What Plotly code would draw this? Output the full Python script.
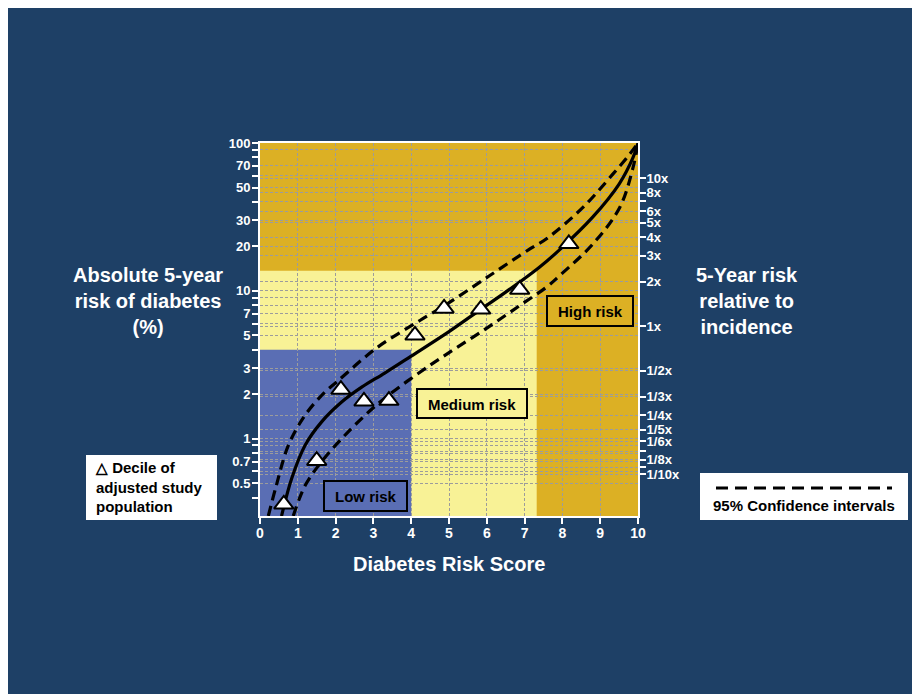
import math
import plotly.graph_objects as go

# ---------------- data ----------------
decile_score = [0.63, 1.50, 2.14, 2.75, 3.41, 4.10, 4.87, 5.84, 6.87, 8.17]
decile_risk = [0.36, 0.71, 2.15, 1.79, 1.81, 5.0, 7.6, 7.5, 10.2, 20.8]

fit_score = [0.57, 0.84, 1.19, 1.63, 2.16, 2.69, 3.30, 4.00, 5.00, 5.84, 6.50, 7.40, 7.93, 8.80, 9.50, 9.87, 10.0]
fit_risk = [0.30, 0.54, 0.90, 1.30, 1.77, 2.23, 2.78, 3.62, 5.30, 7.50, 9.80, 14.5, 19.0, 31.5, 52.8, 80.0, 100.0]

upper_score = [0.22, 0.42, 0.75, 1.19, 1.72, 2.03, 3.08, 4.23, 4.90, 6.08, 7.14, 7.58, 8.55, 9.34, 9.78, 10.0]
upper_risk = [0.30, 0.47, 0.90, 1.44, 2.07, 2.42, 4.10, 6.30, 8.0, 12.7, 19.2, 22.5, 36.8, 61.8, 84.0, 100.0]

lower_score = [0.88, 1.19, 1.63, 2.16, 2.78, 3.39, 4.49, 5.02, 6.00, 6.87, 7.58, 7.93, 8.81, 9.52, 9.87, 10.0]
lower_risk = [0.30, 0.48, 0.70, 1.00, 1.44, 1.96, 3.13, 3.85, 5.6, 7.95, 10.6, 12.7, 20.8, 36.8, 68.5, 100.0]

# risk zones
low_score_max, low_risk_max = 4.0, 4.0
med_score_max, med_risk_max = 7.32, 13.7
risk_min, risk_max = 0.3, 100.0
score_ticks = list(range(0, 11))

# left axis ticks
left_tickvals = [0.4, 0.5, 0.6, 0.7, 0.8, 0.9, 1, 2, 3, 4, 5, 6, 7, 8, 9,
                 10, 20, 30, 40, 50, 60, 70, 80, 90, 100]
left_labeled = [0.5, 0.7, 1, 2, 3, 5, 7, 10, 20, 30, 50, 70, 100]
left_ticktext = [("%g" % v) if v in left_labeled else "" for v in left_tickvals]
left_gridvals = [0.5, 0.6, 0.7, 0.8, 0.9, 1, 2, 3, 5, 6, 7, 8, 9, 10, 20, 30, 50, 60, 70, 90]

# right axis (relative to incidence)
incidence = 5.77  # % corresponding to 1x
right_tickvals = [10, 8, 7, 6, 5, 4, 3, 2, 1, 1/2, 1/3, 1/4, 1/5, 1/6, 1/7, 1/8, 1/9, 1/10]
right_ticktext = ["10x", "8x", "", "6x", "5x", "4x", "3x", "2x", "1x", "1/2x", "1/3x",
                  "1/4x", "1/5x", "1/6x", "", "1/8x", "", "1/10x"]

# ---------------- styling ----------------
NAVY = "#1E4066"
GOLD = "#DCB024"
LIGHT = "#F8F296"
BLUE = "#5A6EB4"
GRID = "#9C9C9C"
FONT = "Liberation Sans, Arial, sans-serif"

W, H = 920, 694
OX, OY = 8, 8          # page margin of the html body
L, T = 252, 135        # plot area left / top inside the figure
R, B = 290, 186
PW, PH = W - L - R, H - T - B


def px(x):  # screenshot pixel -> paper
    return (x - OX - L) / PW


def py(y):
    return (H - B - (y - OY)) / PH


fig = go.Figure()

fig.add_trace(go.Scatter(x=upper_score, y=upper_risk, mode="lines", line_shape="spline",
                         line=dict(color="black", width=3.2, dash="10px,6px"),
                         hoverinfo="skip", showlegend=False))
fig.add_trace(go.Scatter(x=lower_score, y=lower_risk, mode="lines", line_shape="spline",
                         line=dict(color="black", width=3.2, dash="10px,6px"),
                         hoverinfo="skip", showlegend=False))
fig.add_trace(go.Scatter(x=fit_score, y=fit_risk, mode="lines", line_shape="spline",
                         line=dict(color="black", width=3.2),
                         hoverinfo="skip", showlegend=False))
fig.add_trace(go.Scatter(x=decile_score, y=decile_risk, mode="markers",
                         marker=dict(symbol="triangle-up", size=17, color="white",
                                     line=dict(color="black", width=2)),
                         hoverinfo="skip", showlegend=False))
# carrier traces for the overlay axes
fig.add_trace(go.Scatter(x=[5], y=[1], yaxis="y2", mode="markers", marker=dict(opacity=0),
                         hoverinfo="skip", showlegend=False))
fig.add_trace(go.Scatter(x=[5], y=[1], yaxis="y3", mode="markers", marker=dict(opacity=0),
                         hoverinfo="skip", showlegend=False))

shapes = []
# zone rectangles
shapes.append(dict(type="rect", xref="x", yref="y", x0=0, x1=med_score_max, y0=risk_min, y1=med_risk_max,
                   fillcolor=LIGHT, line=dict(width=0), layer="below"))
shapes.append(dict(type="rect", xref="x", yref="y", x0=0, x1=low_score_max, y0=risk_min, y1=low_risk_max,
                   fillcolor=BLUE, line=dict(width=0), layer="below"))


def box(x0, y0, x1, y1, fill, lw=2, lc="black"):
    return dict(type="rect", xref="paper", yref="paper", x0=px(x0), x1=px(x1), y0=py(y1), y1=py(y0),
                fillcolor=fill, line=dict(color=lc, width=lw), layer="above")


shapes.append(box(324, 481, 407, 511, BLUE))
shapes.append(box(417, 389, 527, 418, LIGHT))
shapes.append(box(547, 296, 633, 326, GOLD))
# legend boxes
shapes.append(box(86, 455, 217, 520, "white", lw=0, lc="white"))
shapes.append(box(700, 473, 908, 520, "white", lw=0, lc="white"))
shapes.append(dict(type="line", xref="paper", yref="paper", x0=px(716), x1=px(892), y0=py(488), y1=py(488),
                   line=dict(color="black", width=3, dash="12px,7px")))

annotations = []


def text(x, y, s, size, color="black", anchor="center", align="center"):
    annotations.append(dict(xref="paper", yref="paper", x=px(x), y=py(y), text=s, showarrow=False,
                            xanchor=anchor, yanchor="middle", align=align,
                            font=dict(family=FONT, size=size, color=color, weight="bold")))


text(366, 496, "Low risk", 15)
text(472, 404, "Medium risk", 15)
text(590, 311, "High risk", 15)
text(93, 487, "△ Decile of<br>adjusted study<br>population", 15, anchor="left", align="left")
text(804, 505, "95% Confidence intervals", 15)
text(148, 301, "Absolute 5-year<br>risk of diabetes<br>(%)", 20, color="white")
text(747, 301, "5-Year risk<br>relative to<br>incidence", 20, color="white")
text(449, 564, "Diabetes Risk Score", 20, color="white")

tickfont = dict(family=FONT, size=13, color="white", weight="bold")
xtickfont = dict(family=FONT, size=14, color="white", weight="bold")
griddash = "3px,2px"

fig.update_layout(
    width=W, height=H,
    margin=dict(l=L, r=R, t=T, b=B, pad=0),
    paper_bgcolor=NAVY, plot_bgcolor=GOLD,
    shapes=shapes, annotations=annotations,
    xaxis=dict(range=[0, 10], tickvals=score_ticks, ticks="outside", ticklen=6, tickwidth=2,
               tickcolor="white", showline=True, linecolor="white", linewidth=2, mirror=True,
               showgrid=True, gridcolor=GRID, gridwidth=1, griddash=griddash,
               tickfont=xtickfont, ticklabelstandoff=-3, zeroline=False, fixedrange=True),
    yaxis=dict(type="log", range=[math.log10(risk_min), math.log10(risk_max)],
               tickvals=left_tickvals, ticktext=left_ticktext, ticks="outside", ticklen=6, tickwidth=2,
               tickcolor="white", showline=True, linecolor="white", linewidth=2,
               showgrid=False, tickfont=tickfont, ticklabelstandoff=-1, zeroline=False, fixedrange=True),
    yaxis2=dict(type="log", overlaying="y", side="right",
                range=[math.log10(risk_min / incidence), math.log10(risk_max / incidence)],
                tickvals=right_tickvals, ticktext=right_ticktext, ticks="outside", ticklen=6, tickwidth=2,
                tickcolor="white", showline=True, linecolor="white", linewidth=2,
                showgrid=True, gridcolor=GRID, gridwidth=1, griddash=griddash,
                tickfont=tickfont, ticklabelstandoff=-2, zeroline=False, fixedrange=True),
    yaxis3=dict(type="log", overlaying="y", side="left",
                range=[math.log10(risk_min), math.log10(risk_max)],
                tickvals=left_gridvals, showticklabels=False, ticks="",
                showline=False, showgrid=True, gridcolor=GRID, gridwidth=1, griddash=griddash,
                zeroline=False, fixedrange=True),
)

fig.write_html("out.html")
